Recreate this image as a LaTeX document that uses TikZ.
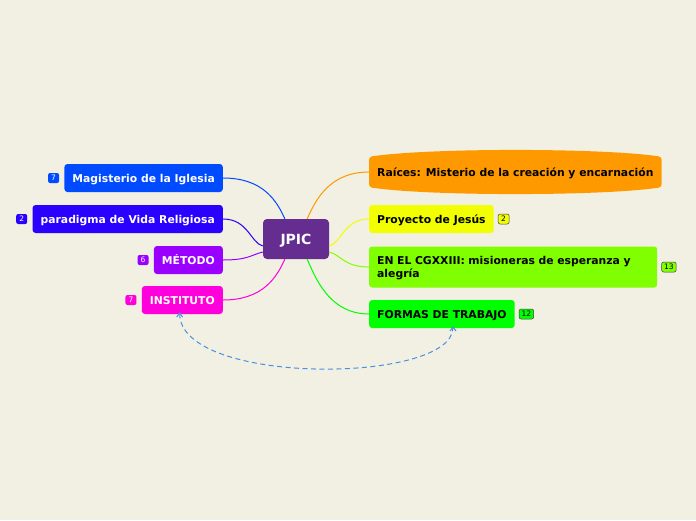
\documentclass[tikz,border=0pt]{standalone}
\usepackage{fontspec}
\setmainfont{DejaVu Sans}
\usetikzlibrary{arrows.meta,positioning,backgrounds}
\definecolor{bgcream}{HTML}{F2EFE3}
\definecolor{rootpurple}{HTML}{662D91}
\definecolor{magisblue}{HTML}{004BFF}
\definecolor{paradblue}{HTML}{2A00FF}
\definecolor{metodopurple}{HTML}{9900FF}
\definecolor{institmagenta}{HTML}{FF00DD}
\definecolor{raicesorange}{HTML}{FF9900}
\definecolor{proyyellow}{HTML}{F2FF00}
\definecolor{cgxgreen}{HTML}{80FF00}
\definecolor{formasgreen}{HTML}{00FF00}
\definecolor{linkblue}{HTML}{4A90E2}

\begin{document}
\begin{tikzpicture}[x=1pt,y=-1pt,
  topic/.style={rounded corners=3pt,font=\bfseries\fontsize{10.8}{13}\selectfont,
    inner xsep=8pt,inner ysep=0pt,minimum height=28pt,text height=8pt,text depth=0pt},
  lefttopic/.style={topic,anchor=east,text=white},
  righttopic/.style={topic,anchor=west,text=black},
  badge/.style={rounded corners=2pt,font=\fontsize{7.5}{8}\selectfont,inner xsep=2.5pt,
    inner ysep=1pt,minimum height=10pt,minimum width=11pt,text height=5.5pt,text depth=0pt},
  leftbadge/.style={badge,text=white},
  rightbadge/.style={badge,draw=black!75,line width=0.5pt,text=black},
  branch/.style={line width=1pt}
]
  \begin{scope}[on background layer]
    \fill[bgcream] (0,0) rectangle (696,520);
  \end{scope}

  % central topic
  \node[fill=rootpurple,rounded corners=4pt,minimum width=66pt,minimum height=40pt,
    text height=10pt,text depth=0pt,
    text=white,font=\bfseries\fontsize{14}{16}\selectfont] (jpic) at (296,239) {JPIC};

  % left side
  \node[lefttopic,fill=magisblue] (magis) at (223,178) {Magisterio de la Iglesia};
  \node[lefttopic,fill=paradblue] (parad) at (223,219) {paradigma de Vida Religiosa};
  \node[lefttopic,fill=metodopurple] (metodo) at (223,260) {MÉTODO};
  \node[lefttopic,fill=institmagenta] (instit) at (223,300) {INSTITUTO};
  \node[leftbadge,fill=magisblue,left=5pt of magis] (magisn) {7};
  \node[leftbadge,fill=paradblue,left=5pt of parad] (paradn) {2};
  \node[leftbadge,fill=metodopurple,left=5pt of metodo] (metodon) {6};
  \node[leftbadge,fill=institmagenta,left=5pt of instit] (institn) {7};

  % right side
  \node[righttopic,minimum width=291pt,minimum height=30pt] (raices) at (369,172)
    {Raíces: Misterio de la creación y encarnación};
  \begin{scope}[on background layer]
    \fill[raicesorange,rounded corners=3pt]
      (raices.north west) .. controls +(60,-9) and +(-60,-9) .. (raices.north east)
      -- (raices.south east) .. controls +(-60,9) and +(60,9) .. (raices.south west) -- cycle;
  \end{scope}
  \node[righttopic,fill=proyyellow] (proy) at (369,219) {Proyecto de Jesús};
  \node[righttopic,fill=cgxgreen,minimum height=41pt,text width=272pt,align=left,
    text height=8pt,text depth=13pt] (cgx) at (369,267)
    {EN EL CGXXIII: misioneras de esperanza y alegría};
  \node[righttopic,fill=formasgreen] (formas) at (369,314) {FORMAS DE TRABAJO};
  \node[rightbadge,fill=proyyellow,right=4pt of proy] (proyn) {2};
  \node[rightbadge,fill=cgxgreen,right=4pt of cgx] (cgxn) {13};
  \node[rightbadge,fill=formasgreen,right=4pt of formas] (formasn) {12};

  % branches
  \draw[branch,magisblue] (magis.east) .. controls +(40,0) and +(-8,-18) .. ([xshift=22pt]jpic.north west);
  \draw[branch,paradblue] (parad.east) .. controls +(25,0) and +(-12,-3) .. ([yshift=-7pt]jpic.west);
  \draw[branch,metodopurple] (metodo.east) .. controls +(25,0) and +(-12,3) .. ([yshift=-13pt]jpic.west);
  \draw[branch,institmagenta] (instit.east) .. controls +(40,0) and +(-8,18) .. ([xshift=22pt]jpic.south west);
  \draw[branch,raicesorange] (raices.west) .. controls +(-40,0) and +(8,-18) .. ([xshift=-22pt]jpic.north east);
  \draw[branch,proyyellow] (proy.west) .. controls +(-25,0) and +(12,-3) .. ([yshift=-7pt]jpic.east);
  \draw[branch,cgxgreen] (cgx.west) .. controls +(-25,0) and +(12,3) .. ([yshift=-13pt]jpic.east);
  \draw[branch,formasgreen] (formas.west) .. controls +(-40,0) and +(8,18) .. ([xshift=-22pt]jpic.south east);

  % relationship
  \draw[linkblue,line width=1pt,dash pattern=on 5pt off 3.5pt,
    {Straight Barb[length=4pt,width=6pt]}-{Straight Barb[length=4pt,width=6pt]}]
    ([xshift=38pt,yshift=2pt]instit.south west) .. controls +(0,74) and +(0,58) .. ([xshift=84pt,yshift=2pt]formas.south west);
\end{tikzpicture}
\end{document}
